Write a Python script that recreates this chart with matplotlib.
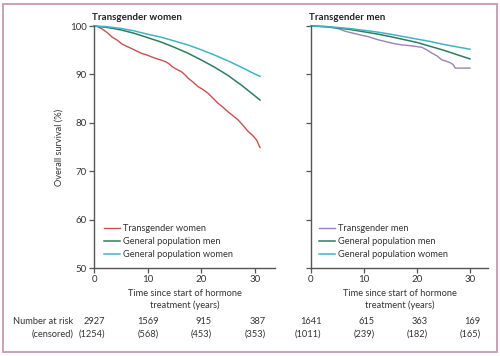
import matplotlib
matplotlib.use("Agg")
import matplotlib.pyplot as plt
from matplotlib.transforms import blended_transform_factory
from matplotlib.patches import Rectangle

plt.rcParams['font.family'] = ['Lato', 'DejaVu Sans']

# ---- Data ----
# Left panel: transgender women
tw_years = [0, 0.6, 1.5, 2.5, 3.4, 4.3, 5.2, 6.1, 7.1, 8.0, 9.0, 9.9, 10.8, 11.8, 12.7,
            13.4, 14.0, 14.6, 15.2, 15.7, 16.4, 17.0, 17.6, 18.5, 19.4, 20.3, 21.3,
            22.2, 23.2, 24.1, 25.0, 25.9, 26.9, 27.8, 28.8, 29.7, 30.4, 30.7, 31.0]
tw_surv = [100, 99.9, 99.4, 98.6, 97.7, 97.1, 96.3, 95.8, 95.3, 94.8, 94.3, 94.0, 93.6, 93.2, 92.9,
           92.6, 92.2, 91.6, 91.2, 90.9, 90.5, 89.9, 89.2, 88.4, 87.5, 86.9, 86.1,
           85.1, 84.0, 83.2, 82.3, 81.5, 80.6, 79.5, 78.2, 77.3, 76.4, 75.6, 74.9]

gp_years_l = [0, 2.5, 5, 7.5, 10, 12.5, 15, 17.5, 20, 22.5, 25, 27.5, 30, 31.0]
gpw_surv_l = [100, 99.85, 99.5, 99.0, 98.3, 97.7, 96.9, 96.1, 95.1, 94.0, 92.8, 91.5, 90.1, 89.6]
gpm_surv_l = [100, 99.7, 99.2, 98.5, 97.6, 96.7, 95.6, 94.4, 93.0, 91.5, 89.8, 87.8, 85.6, 84.7]

# Right panel: transgender men
tm_years = [0, 3.0, 5.0, 6.5, 8.0, 9.5, 10.8, 12.5, 14.0, 15.5, 17.1, 19.0, 20.9,
            21.8, 22.8, 23.8, 24.7, 25.6, 26.5, 26.9, 27.2, 28.0, 30.0]
tm_surv = [100, 99.9, 99.5, 98.9, 98.5, 98.1, 97.8, 97.2, 96.8, 96.4, 96.1, 95.9, 95.6,
           95.1, 94.4, 93.8, 93.0, 92.7, 92.3, 91.9, 91.3, 91.3, 91.3]

gp_years_r = [0, 2.5, 5, 7.5, 10, 12.5, 15, 17.5, 20, 22.5, 25, 27.5, 30]
gpw_surv_r = [100, 99.9, 99.7, 99.45, 99.1, 98.75, 98.3, 97.8, 97.3, 96.8, 96.2, 95.7, 95.2]
gpm_surv_r = [100, 99.85, 99.6, 99.25, 98.8, 98.35, 97.8, 97.2, 96.6, 95.8, 95.0, 94.1, 93.2]

xticks = [0, 10, 20, 30]
yticks = [50, 60, 70, 80, 90, 100]

risk_w = ["2927", "1569", "915", "387"]
cens_w = ["(1254)", "(568)", "(453)", "(353)"]
risk_m = ["1641", "615", "363", "169"]
cens_m = ["(1011)", "(239)", "(182)", "(165)"]

RED = "#c8504f"
GREEN = "#2e7d5e"
TEAL = "#3fb4c6"
PURPLE = "#9d80b9"
AXC = "#555555"
TXT = "#333333"
FS = 6.7

W, H = 500, 356
fig = plt.figure(figsize=(W / 100, H / 100), dpi=100)
fig.patch.set_facecolor("white")

# frame
fig.patches.append(Rectangle((3 / W, 4 / H), 494 / W, 348 / H, transform=fig.transFigure,
                             fill=False, edgecolor="#c9a0b9", linewidth=1.4))

bottom = 1 - 268 / H
height = 242 / H
axL = fig.add_axes([94 / W, bottom, 181 / W, height])
axR = fig.add_axes([311 / W, bottom, 177 / W, height])


def style(ax, xmax, show_ylabels):
    ax.set_xlim(0, xmax)
    ax.set_ylim(50, 100)
    for s in ["top", "right"]:
        ax.spines[s].set_visible(False)
    for s in ["left", "bottom"]:
        ax.spines[s].set_color(AXC)
        ax.spines[s].set_linewidth(1.0)
    ax.set_xticks(xticks)
    ax.set_yticks(yticks)
    ax.tick_params(axis="both", direction="out", length=3.5, width=0.9, color=AXC,
                   labelsize=7.0, labelcolor=TXT, pad=1.5)
    if not show_ylabels:
        ax.set_yticklabels([])
    ax.set_xlabel("Time since start of hormone\ntreatment (years)", fontsize=FS,
                  color=TXT, labelpad=4, linespacing=1.3)


style(axL, 33.8, True)
style(axR, 33.4, False)
axL.set_ylabel("Overall survival (%)", fontsize=FS, color=TXT, labelpad=5)

lw = 1.0
axL.plot(tw_years, tw_surv, color=RED, lw=lw, label="Transgender women", clip_on=False)
axL.plot(gp_years_l, gpm_surv_l, color=GREEN, lw=lw + 0.1, label="General population men", clip_on=False)
axL.plot(gp_years_l, gpw_surv_l, color=TEAL, lw=lw + 0.1, label="General population women", clip_on=False)

axR.plot(tm_years, tm_surv, color=PURPLE, lw=lw, label="Transgender men", clip_on=False)
axR.plot(gp_years_r, gpm_surv_r, color=GREEN, lw=lw + 0.1, label="General population men", clip_on=False)
axR.plot(gp_years_r, gpw_surv_r, color=TEAL, lw=lw + 0.1, label="General population women", clip_on=False)

for ax, x0 in [(axL, 104), (axR, 319)]:
    leg = ax.legend(loc="upper left", bbox_to_anchor=(x0 / W, 1 - 224 / H),
                    bbox_transform=fig.transFigure, frameon=False, fontsize=FS,
                    handlelength=1.7, handletextpad=0.35, labelspacing=0.42,
                    borderpad=0, borderaxespad=0)
    for t in leg.get_texts():
        t.set_color(TXT)

fig.text(92 / W, 1 - 17 / H, "Transgender women", fontsize=7.0, fontweight="bold",
         color="#222222", va="center", ha="left")
fig.text(309 / W, 1 - 17 / H, "Transgender men", fontsize=7.0, fontweight="bold",
         color="#222222", va="center", ha="left")

# number at risk table
y1 = 1 - 322 / H
y2 = 1 - 334 / H
fig.text(73 / W, y1, "Number at risk", fontsize=FS, color=TXT, ha="right", va="center")
fig.text(73 / W, y2, "(censored)", fontsize=FS, color=TXT, ha="right", va="center")
for ax, risk, cens in [(axL, risk_w, cens_w), (axR, risk_m, cens_m)]:
    tr = blended_transform_factory(ax.transData, fig.transFigure)
    for xv, r, c in zip(xticks, risk, cens):
        ax.text(xv + 2.0, y1, r, transform=tr, fontsize=FS, color=TXT,
                ha="right", va="center", clip_on=False)
        ax.text(xv + 2.0, y2, c, transform=tr, fontsize=FS, color=TXT,
                ha="right", va="center", clip_on=False)

fig.savefig("out.png", dpi=100, facecolor="white")
